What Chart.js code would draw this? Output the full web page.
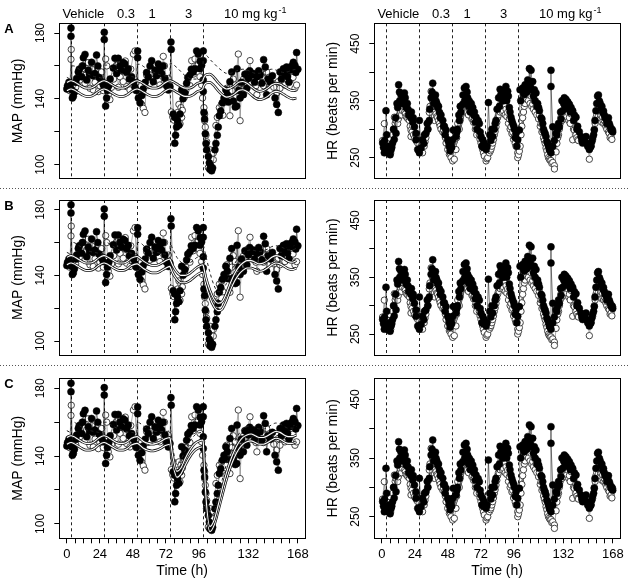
<!DOCTYPE html>
<html>
<head>
<meta charset="utf-8">
<script src="https://cdn.jsdelivr.net/npm/chart.js@4.4.0/dist/chart.umd.min.js"></script>
<style>
  body { margin: 0; background: #fff; }
  #fig { position: relative; width: 629px; height: 581px; overflow: hidden; }
  #fig canvas { position: absolute; }
  .sep {
    position: absolute; left: 0; width: 629px; height: 1px; z-index: 2;
    background-image: linear-gradient(to right, #555 50%, transparent 50%);
    background-size: 3px 1px;
  }
</style>
</head>
<body>
<div id="fig">
  <div class="sep" style="top:188px"></div>
  <div class="sep" style="top:365px"></div>
</div>
<script>
// dosing (h) and labels
const doseTimes = [3, 27, 51, 75, 99]
const doseLabels = ['Vehicle', '0.3', '1', '3', '10 mg kg']
const doseLabelHours = [12, 43, 62, 88.5, 137]

// axes
const timeTicks = [0, 6, 12, 18, 24, 30, 36, 42, 48, 54, 60, 66, 72, 78, 84, 90, 96, 102, 108, 114, 120, 126, 132, 138, 144, 150, 156, 162, 168]
const timeLabels = [0, 24, 48, 72, 96, 132, 168]
const mapTicks = [100, 120, 140, 160, 180]
const mapLabels = [100, 140, 180]
const hrTicks = [250, 300, 350, 400, 450]
const hrLabels = [250, 350, 450]

// observed MAP (mmHg), [h, value]
const mapFilled = [
  [0,146],[0.5,148],[1,147.4],[1.5,150],[2.3,148],[3,183],[3,178],[3.5,145.5],[4,140.5],[4.7,141.5],[5.5,144],[6.5,150],[7.1,152.4],[8.3,156.3],[9,158],[10.7,153.4],[11.5,160],[12,165],[13.2,167],[14.4,151.4],[15.6,157.3],[16.5,155],[18,162.2],[19,154],[20.4,155.4],[21.6,166.6],[22.5,160],[23.5,153],[25.3,150.4],[26.5,148.4],
  [27.2,180.4],[27.2,176],[28.2,135.6],[28.9,140.5],[29.5,145],[30.5,148],[31.5,152],[33.8,158.7],[35,164.6],[36.2,155.4],[37.4,164.6],[38.5,160],[39.8,157.3],[41,162],[42.3,161.2],[43.5,156],[44.7,158.3],[45.5,152],[47.1,153.4],[48.5,150],[49.5,147],[50.5,145],
  [51.5,169],[51.5,165],[52,140.5],[53.2,137.6],[54.5,142],[55.5,146],[57,150],[58,156],[59.2,153.4],[60.5,160],[61.7,163.2],[62.9,150.4],[64.1,157.3],[65.2,154],[66.5,161.2],[67.5,158],[68.9,155.4],[70,160],[71.4,152.4],[72.5,148],[73.8,145.4],[75,147.4],
  [75.7,174.5],[75.9,170],[77.4,130.7],[78.5,128.7],[78.5,113],[79.1,117.9],[79.8,122.8],[80.5,127],[81.5,124],[82.3,130.7],[83.5,145.5],[84.5,140],[85.9,143.5],[87.1,149.4],[88,153],[89.5,154.4],[90.5,158],[91.9,156.3],[93.2,158.3],[94.4,169.1],[95.6,167.2],[96.8,158.3],[97,163],[98,160.3],
  [99.2,169.1],[99.2,163.2],[99.2,151.4],[99.2,144.5],[99.7,131.7],[100.2,127.7],[100.7,118.8],[101.2,112.9],[101.7,109],[102.9,105],[103.6,101.1],[104,97.2],[104.6,99.2],[105.3,96.2],[106,98],[107.7,109],[108.4,112.9],[109.4,117.9],[110.1,122.8],[110.9,129.7],[111.9,132.6],[113.1,137.6],[114.3,140.5],[115.6,145.5],[116.7,142.5],[117.5,138],[118.6,150.4],[119.9,156.3],[121.1,138.6],[122.5,135],[123.5,135.6],[123.8,158.3],
  [125,145],[126,140.5],[127,150],[128.4,142.5],[129.5,155],[130.9,146.4],[132.1,152.4],[133,157],[134.5,154.4],[135.7,155.4],[136.5,150],[138.2,153.4],[139.5,157],[140.6,154.4],[141.8,149.4],[143.1,163.8],[144.3,159.3],[145.3,142.5],[146.5,152],[148,150],[149.5,154],[151.4,140.5],[152.6,136.6],[153.8,131.7],[155,156.3],[156,152],[157.5,158.3],[158.5,155],[159.8,159.3],[160.5,153.4],[161.5,150],[162.3,157.3],[163.5,160],[164.7,162.2],[165.9,160.3],[166.5,156],[167.1,168.1],[168,158]
]
const mapOpen = [
  [0.5,147],[2,145],[3,164],[3.2,170],[4.5,143],[6.4,147],[7.5,150],[9.5,151.4],[11,160],[13.2,149.4],[14.4,155.4],[15.5,162],[16.8,146.4],[18,158],[19.2,145.4],[20.5,150],[22.9,144.4],[22.9,157.3],[24,148],[25.3,156.3],[26.5,145],
  [28.2,164.2],[29,160],[30.1,142.5],[31.3,139.5],[32.5,147],[34,152],[36.2,160.3],[37.5,147],[38.7,153.4],[40,157],[41,150.4],[42.5,163],[43.5,147.4],[45.9,145.4],[46.5,158],[48.4,167.2],[49.6,169.1],[50.5,150],
  [53.2,142.5],[54.4,136.6],[55.6,134.2],[56.8,131.7],[58,154.4],[59,148],[60.5,149.4],[62,158],[63.5,152],[65.3,156.3],[66.5,151],[67.7,148.4],[69,155],[70.1,165.8],[71,160],[72.5,152],[73.8,152.4],[74.5,148],
  [76,132],[77,129],[78,127],[79.8,128.7],[80.6,131.7],[81.5,136.6],[82.3,124.8],[83,134.6],[83.5,128.7],[84,133],[85.5,141],[86.5,145],[88.3,152.4],[89.5,148],[90.8,163.2],[92,155],[93.2,164.2],[94.5,160],[95.6,156.3],[96.8,153.4],[98,148.4],[98.7,140.5],
  [99.7,134.6],[100.2,130.7],[100.2,126.7],[100.7,122.8],[101.2,117.9],[101.7,113.9],[102.9,98.2],[104,109],[106.5,103],[106.5,107],[108.4,123.8],[109.4,128.7],[110.9,134.6],[112.5,136.6],[113.5,130],[115,138],[116.2,146.4],[117.5,144],[118.6,129.7],[120,145],[121,152],[122.3,148.4],[124.7,167.2],
  [126,126.7],[127.1,149.4],[128.5,152],[130,151],[131.5,156],[133.2,163.2],[134.5,150],[136,153],[137.5,148],[138.2,142.5],[140,150],[141.8,153.4],[143,148],[145.3,156.3],[147,153],[149,150],[150.5,147],[152.6,143.5],[153.8,150.4],[155,146.4],[156.5,155],[158.6,148.4],[160,152],[161,157],[162.3,151.4],[163.5,156.3],[164.5,153],[165.9,146.4],[167.1,148.4]
]

// observed HR (beats per min), [h, value]
const hrFilled = [
  [0.6,275.6],[1.2,268],[1.8,258.5],[2,280],[2.5,262],[3,267],[3,332.4],[3.5,290],[4.2,258.5],[4.8,265],[5,270],[6,255],[6.7,264],[7.2,268],[7.8,275.6],[8.5,300],[9,282],[10,320],[10.3,292.6],[11,345],[11.5,338],[12.2,377.8],[12.8,365],[13,350],[13.9,360.8],[14.5,345],[15.1,355.1],[16,350],[16.4,363.6],[17,355],[17.6,338],[18.5,345],[19,335],[19.5,325],[20,329.5],[21,320],[21.5,330],[22.4,312.5],[22.8,320],[23.7,304],[24.8,292.6],[24.8,281.3],[26.1,264.2],
  [27.3,258.5],[27.3,315.3],[28.5,267],[29.6,281.3],[30.5,275],[31,290],[32.1,292.6],[33,310],[33.5,300],[34.5,315.3],[34.8,335],[35.8,355.1],[36.5,365],[37,380.7],[37.8,345],[38.2,355.1],[39,360],[39.4,349.4],[40,345],[40.6,338],[41.2,340],[41.9,329.5],[42.5,320],[43,325],[44.3,315.3],[44.8,305],[45.5,305],[46,290],[46.7,298.3],[47.9,281.3],[48.5,278],[49.1,269.9],[49.6,262],[50.3,275.6],[50.8,268],
  [51.5,281.3],[52,298.3],[53.9,287],[54.5,295],[55,300],[56,325],[56.4,315.3],[57,340],[57.5,330],[58.8,343.7],[59,360],[60,372.2],[60.5,350],[61.2,375],[62,365],[62.4,355.1],[63,340],[63.6,349.4],[64.3,330],[65,345],[66.1,338],[66.8,325],[67.3,330],[68,312],[68.5,321],[69.2,300],[70,315],[70.9,309.7],[71.5,295],[72.1,287],[72.8,270],[73.3,281.3],[73.8,268],[74.5,275.6],
  [75.8,264.2],[76.5,270],[77.5,346.6],[78.5,290],[79.2,280],[80,300],[80.6,287],[81.8,300],[82.4,310],[83,315.3],[83.8,335],[84.9,355.1],[85.5,340],[86,370],[86.6,360.8],[87.9,349.4],[88.5,355],[89,365],[90.2,375],[90.8,350],[91.5,366.5],[92,358],[92.7,338],[93.2,330],[93.9,321],[94.5,315],[95.2,309.7],[96,305],[96.4,300],[97,285],[97.6,292.6],[98.2,270],[98.8,281.3],
  [100,298.3],[100.5,369.3],[101,350],[102.4,372.2],[103,365],[103.6,360.8],[104.2,378],[104.8,369.3],[105.5,365],[106.1,386.4],[106.8,380],[107.3,406.3],[108,375],[108.5,403.4],[109.2,369.3],[109.7,383.5],[110.2,358],[110.9,369.3],[111.5,350],[112.1,363.6],[112.8,340],[113.3,345],[114,338],[114.6,332.4],[115.8,320],[116.4,318],[117,309.7],[117.6,300],[118.2,295],[118.8,292],[119.4,287],[120,278],[120.6,275.6],[121.2,270],[121.8,264.2],[122.4,262],[123,258.5],[123,403.4],[123,375],[124.3,304],[124.3,269.9],
  [125.5,280],[126.7,292.6],[127.3,290],[127.9,300],[128.5,310],[129.1,304],[130,330],[130.3,318],[131,350],[131.5,332.4],[132.2,345],[132.7,355.1],[133.3,340],[133.9,352.3],[134.5,338],[135.2,348],[136,335],[136.4,343.7],[137,330],[137.6,338],[138.8,332.4],[139.4,315],[140,325],[141.2,321],[141.8,300],[142.4,305],[143.6,295.5],[144.8,287],[145.4,280],[146,275.6],[147.3,280],[148.5,287],[149,275],[149.7,269.9],[150.9,264.2],[151.5,268],[152.1,270],[152.7,278],[153.3,285],[154,290],[154.5,298.3],
  [155,315],[155.7,332.4],[156.3,345],[156.9,358],[157.5,360],[158.2,349.4],[158.8,345],[159.4,338],[160,340],[160.6,329.5],[161.2,332],[161.8,325],[162.4,320],[163,318.2],[163.6,310],[164.2,315],[164.8,320],[165.4,309.7],[166,305],[166.7,298.3],[167.3,300],[167.9,295]
]
const hrOpen = [
  [0.5,280],[1.8,309.7],[2.5,270],[3.6,265],[4.2,275.6],[5.3,262],[5.9,284],[6.4,258],[7,270],[8,290],[8.6,300],[9.1,321],[9.7,310],[10.3,315],[11.5,309.7],[12,318],[12.6,323.9],[13.8,330],[14.4,325],[15.1,332.4],[15.6,340],[16,345],[16.6,330],[17.1,326.7],[17.7,322],[18.3,320],[19,318],[20,315.3],[20.6,305],[21.2,298.3],[21.2,287],[22,295],[22.5,305],[23,290],[23.7,284],[24.8,289.8],[25.4,278],[26.1,275.6],[26.8,262],
  [27.8,258.5],[28.7,265],[29,272],[29.6,258.5],[30.8,270],[31.4,278],[32,285],[33.3,300],[33.9,312],[34.5,329.5],[35,340],[35.8,366.5],[36.8,350],[37.5,343.7],[38.2,315.3],[38.8,330],[39.4,326.7],[40,322],[40.5,320],[41.2,315],[41.9,309.7],[42.4,305],[43,300],[44.3,295],[44.9,298],[45.5,292.6],[46.2,285],[46.7,275.6],[47.9,264.2],[48.5,270],[49.1,255.7],[49.7,258],[50.3,250],
  [51.5,244.3],[52.7,247.2],[53.9,264.2],[54.4,285],[55.2,309.7],[56.3,300],[56.9,315],[57.6,326.7],[58.2,330],[58.8,335],[59.4,340],[60,349.4],[60.6,335],[61.2,340],[61.8,330],[62.4,338],[63,325],[63.6,332],[64.9,329.5],[65.5,318],[66.1,320],[66.7,312],[67.3,315.3],[68,300],[68.5,305],[69,290],[69.7,298.3],[70.9,290],[71.4,282],[72.1,275.6],[72.7,270],[73.3,264.2],[73.9,258],[74.5,252.8],
  [75.8,244.3],[76.4,248],[77,250],[78.2,258.5],[79,262],[79.4,265],[80,270],[80.6,275.6],[81.2,282],[81.8,290],[82.4,296],[83,304],[83.6,312],[84.2,320],[84.8,325],[85.4,332.4],[86,330],[86.6,335],[87.9,329.5],[88.5,332],[89.1,340.9],[89.7,325],[90.3,335],[90.9,322],[91.5,329.5],[92.1,310],[92.7,318],[93.3,300],[93.9,304],[94.6,292],[95.2,295],[95.8,282],[96.4,287],[97,275],[97.6,269.9],[98.8,258.5],[98.8,250],
  [99.4,255],[100,261.4],[100.6,270],[101.2,290],[101.8,305],[102.4,320],[103,330],[103.6,340],[104.2,345],[104.8,355.1],[105.4,352],[106,360],[106.6,350],[107.3,366.5],[107.8,345],[108.5,358],[109,340],[109.7,343.7],[110.3,335],[110.9,349.4],[111.5,330],[112.1,340],[112.7,325],[113.3,338],[114,318],[114.5,325],[115.2,305],[115.8,310],[116.4,295],[117,298.3],[117.6,285],[118.2,280],[118.8,275],[119.4,267],[120,262],[120.6,255],[121.2,250],[121.8,247.2],[122.4,245],[123,245],[123.6,240],[124.3,241.5],[125.5,235.8],[125.5,230.1],
  [126.7,260],[127.3,275],[127.9,285],[128.5,290],[129.1,300],[129.7,310],[130.3,321],[130.9,315],[131.5,325],[132.1,318],[132.7,332.4],[133.9,330],[134.5,322],[135.2,329.5],[136,315],[136.4,320],[137,310],[137.6,326.7],[138.8,281.3],[139.4,300],[140,298.3],[141.2,290],[141.8,285],[142.4,281.3],[143,280],[146,282],[147.5,278],[149.7,275],[150.9,247.2],[152.1,270],[153.3,281.3],[154.5,300],
  [155.1,310],[155.7,320],[156.3,325],[156.9,332.4],[157.6,335],[158.2,330],[158.8,320],[159.4,323.9],[160,312],[160.6,321],[161.2,310],[161.8,315],[162.4,308],[163,304],[163.6,300],[164.2,306.8],[164.8,295],[165.4,292.6],[166,285],[166.7,287],[167.3,282],[167.9,298.3]
]

// model fits, sampled at fitHours
const fitHours = [
  0, 2.9, 3.2, 5, 8, 11, 14, 17, 20, 23,
  26.9, 27.2, 29, 32, 35, 38, 41, 44, 47,
  50.9, 51.2, 53, 56, 59, 62, 65, 68, 71,
  74.9, 75.2, 77, 80, 83, 86, 89, 92, 95,
  98.9, 99.2, 101, 104, 107, 110, 113, 116, 119, 122,
  125, 128, 131, 134, 137, 140, 143, 146, 149, 152, 155, 158, 161, 164, 167
]
const mapFitA1 = [
  150, 151, 151, 150.5, 149, 147.5, 146.5, 146.5, 147.5, 149.5,
  151, 151, 150.5, 149, 147.5, 146.5, 146.5, 147.5, 149.5,
  151, 151, 150.5, 149, 147.5, 146.5, 146.5, 147.5, 149.5,
  151, 151, 150.5, 149, 147.5, 146.5, 146.5, 147.5, 149.5,
  151, 152, 154.5, 155, 153, 150, 147.5, 146, 146.5, 148,
  150, 150.5, 149.5, 147.5, 145.5, 144.5, 145, 146.5, 148.5, 149.5, 149, 147.5, 146, 145, 145.5
]
const mapFitA2 = [
  145, 146, 146, 145.5, 144, 142.5, 141.5, 141.5, 142.5, 144.5,
  146, 146, 145.5, 144, 142.5, 141.5, 141.5, 142.5, 144.5,
  146, 146, 145.5, 144, 142.5, 141.5, 141.5, 142.5, 144.5,
  146, 146, 145.5, 144, 142.5, 141.5, 141.5, 142.5, 144.5,
  146, 147, 149.5, 150, 148, 145, 142.5, 141, 141.5, 143,
  145, 145.5, 144.5, 142.5, 140.5, 139.5, 140, 141.5, 143.5, 144.5, 144, 142.5, 141, 140, 140.5
]
const mapTypA = [
  153, 152, 160, 160, 158.5, 157, 155.5, 154.5, 153.5, 153,
  152.5, 160.5, 160.5, 159, 157.5, 156, 155, 154, 153.5,
  153, 161, 161, 159.5, 158, 156.5, 155.5, 154.5, 154,
  153.5, 161.5, 161, 159, 156.5, 154, 152.5, 152, 152,
  152, 166, 166.5, 164, 161.5, 159, 157, 155.5, 155.5, 156.5,
  157.5, 158, 157.5, 156.5, 155.5, 155.5, 156.5, 157.5, 158, 157.5, 156.5, 156, 156.5, 157.5, 158
]
const mapFitB1 = [
  151, 152, 152, 151.5, 150, 148.5, 147.5, 147.5, 148.5, 150.5,
  152, 152, 151.5, 150, 148.5, 147.5, 147.5, 148.5, 150.5,
  151.5, 151.5, 150.5, 148.5, 147, 146, 146, 147, 148.5,
  150, 149.5, 146, 142, 140, 140, 141, 143, 145,
  146.5, 146, 139, 131, 125.5, 123, 124, 129, 135.5, 141,
  145, 147.5, 149, 149, 148, 147, 147.5, 149, 151, 152, 151.5, 150, 148.5, 148, 149
]
const mapFitB2 = [
  146.5, 147.5, 147.5, 147, 145.5, 144, 143, 143, 144, 146,
  147.5, 147.5, 147, 145.5, 144, 143, 143, 144, 146,
  147, 147, 146, 144, 142.5, 141.5, 141.5, 142.5, 144,
  145.5, 145, 141.5, 137.5, 135.5, 135.5, 136.5, 138.5, 140.5,
  142, 141.5, 134.5, 126.5, 121, 118.5, 119.5, 124.5, 131, 136.5,
  140.5, 143, 144.5, 144.5, 143.5, 142.5, 143, 144.5, 146.5, 147.5, 147, 145.5, 144, 143.5, 144.5
]
const mapTypB = [
  154, 153, 160, 160, 158.5, 157, 155.5, 154.5, 154, 153.5,
  153, 160, 160, 158.5, 157, 155.5, 154.5, 154, 153.5,
  153, 160, 160, 158, 156.5, 155, 154, 153.5, 153,
  153, 159, 156, 151, 148, 147, 147.5, 149, 151,
  152, 158, 152, 142, 134, 130, 130.5, 135, 141.5, 147,
  151, 153.5, 155, 155.5, 155, 154.5, 155, 156, 157.5, 158, 157.5, 156.5, 155.5, 155.5, 156.5
]
const mapFitC1 = [
  151, 152, 152, 151.5, 150, 148.5, 147.5, 147.5, 148.5, 150.5,
  152, 152, 151.5, 150, 148.5, 147.5, 147.5, 148.5, 150.5,
  151.5, 151.5, 150.5, 148.5, 147.5, 147, 147.5, 148.5, 150,
  151, 150, 140, 131, 133, 138.5, 143, 146.5, 148.5,
  149.5, 148, 118, 98.5, 102, 111, 121, 130, 137.5, 143.5,
  148, 151, 152.5, 153, 152, 151, 151, 152, 153.5, 154.5, 154, 152.5, 151.5, 151.5, 152.5
]
const mapFitC2 = [
  147, 148, 148, 147.5, 146, 144.5, 143.5, 143.5, 144.5, 146.5,
  148, 148, 147.5, 146, 144.5, 143.5, 143.5, 144.5, 146.5,
  147.5, 147.5, 146.5, 144.5, 143.5, 143, 143.5, 144.5, 146,
  147, 146, 136, 127.5, 129.5, 134.5, 139, 142.5, 144.5,
  145.5, 144, 114, 95.5, 99, 107.5, 117, 126, 133.5, 139.5,
  144, 147, 148.5, 149, 148, 147, 147, 148, 149.5, 150.5, 150, 148.5, 147.5, 147.5, 148.5
]
const mapTypC = [
  155, 154, 160, 160, 158.5, 157, 155.5, 155, 154.5, 154,
  153.5, 160, 160, 158.5, 157, 156, 155, 154.5, 154,
  153.5, 160, 159.5, 157.5, 156, 155, 154.5, 154.5, 154.5,
  155, 156, 145, 136, 138, 143, 148, 151.5, 153.5,
  154.5, 155, 124, 104, 107, 116, 126, 135, 142.5, 148.5,
  153, 156, 157.5, 158, 157, 156, 156, 157, 158.5, 159.5, 159, 157.5, 156.5, 156.5, 157.5
]
const hrFit = [
  275, 270, 278, 272, 285, 310, 332, 338, 328, 305,
  282, 285, 276, 290, 318, 340, 335, 318, 295,
  274, 278, 270, 292, 322, 342, 338, 322, 300,
  274, 278, 268, 285, 315, 338, 345, 332, 305,
  276, 280, 290, 335, 362, 358, 335, 305, 280, 265,
  268, 295, 325, 338, 335, 315, 295, 282, 275, 278, 300, 330, 335, 320, 302
]

const FONT = "'Liberation Sans', Arial, Helvetica, sans-serif"
const BOX_LEFT = 59.3, BOX_RIGHT = 305

const rows = [
  { letter: 'A', top: 0, height: 188, boxTop: 23.3, boxBottom: 183.3, fits: [mapFitA1, mapFitA2], typ: mapTypA, doses: true },
  { letter: 'B', top: 188, height: 177, boxTop: 12, boxBottom: 172, fits: [mapFitB1, mapFitB2], typ: mapTypB },
  { letter: 'C', top: 365, height: 216, boxTop: 13.3, boxBottom: 173.3, fits: [mapFitC1, mapFitC2], typ: mapTypC, xAxis: true }
]

const pts = arr => arr.map(([t, v]) => ({ x: t, y: v })).sort((p, q) => p.x - q.x)
const fit = vals => fitHours.map((t, i) => ({ x: t, y: vals[i] }))

const tube = (vals, outer, inner) => [
  { data: fit(vals), showLine: true, pointRadius: 0, borderColor: '#fff', borderWidth: inner, cubicInterpolationMode: 'monotone' },
  { data: fit(vals), showLine: true, pointRadius: 0, borderColor: '#111', borderWidth: outer, cubicInterpolationMode: 'monotone' }
]
const dashed = vals => ({
  data: fit(vals), showLine: true, pointRadius: 0, borderColor: '#222', borderWidth: 1,
  borderDash: [3, 3], cubicInterpolationMode: 'monotone'
})
const openSet = arr => ({
  data: pts(arr), showLine: true, borderColor: '#555', borderWidth: 0.5,
  pointRadius: 3.2, pointBackgroundColor: '#fff', pointBorderColor: '#444', pointBorderWidth: 1
})
const filledSet = arr => ({
  data: pts(arr), showLine: true, borderColor: '#000', borderWidth: 0.5,
  pointRadius: 3.5, pointBackgroundColor: '#000', pointBorderColor: '#000', pointBorderWidth: 0.5
})

// dashed dose lines, box and all text
const panelPlugin = {
  id: 'panel',
  beforeDatasetsDraw(chart, args, o) {
    const { ctx, chartArea: a } = chart
    const x = chart.scales.x
    ctx.save()
    ctx.strokeStyle = '#222'
    ctx.lineWidth = 1
    ctx.setLineDash([3, 3])
    doseTimes.forEach(t => {
      const px = Math.round(x.getPixelForValue(t)) + 0.5
      ctx.beginPath()
      ctx.moveTo(px, a.top)
      ctx.lineTo(px, a.bottom)
      ctx.stroke()
    })
    ctx.restore()
  },
  afterDraw(chart, args, o) {
    const { ctx, chartArea: a } = chart
    const x = chart.scales.x, y = chart.scales.y
    ctx.save()
    ctx.strokeStyle = '#000'
    ctx.lineWidth = 1
    ctx.strokeRect(Math.round(a.left) + 0.5, Math.round(a.top) + 0.5, Math.round(a.right - a.left), Math.round(a.bottom - a.top))
    ctx.fillStyle = '#000'
    ctx.textAlign = 'center'
    ctx.textBaseline = 'middle'

    // y tick labels, rotated
    ctx.font = '12px ' + FONT
    o.yLabels.forEach(v => {
      ctx.save()
      ctx.translate(a.left - 18.5, y.getPixelForValue(v))
      ctx.rotate(-Math.PI / 2)
      ctx.fillText(String(v), 0, 0)
      ctx.restore()
    })
    // y title
    ctx.font = '14px ' + FONT
    ctx.save()
    ctx.translate(a.left - 41, (a.top + a.bottom) / 2)
    ctx.rotate(-Math.PI / 2)
    ctx.fillText(o.yTitle, 0, 0)
    ctx.restore()

    if (o.letter) {
      ctx.font = 'bold 13px ' + FONT
      ctx.fillText(o.letter, 9, a.top + 6)
    }
    if (o.doses) {
      ctx.font = '13px ' + FONT
      doseLabels.forEach((lab, i) => {
        const cx = x.getPixelForValue(doseLabelHours[i])
        const cy = a.top - 9
        if (i === doseLabels.length - 1) {
          const w = ctx.measureText(lab).width
          ctx.font = '9px ' + FONT
          const ws = ctx.measureText('-1').width
          ctx.font = '13px ' + FONT
          ctx.textAlign = 'left'
          ctx.fillText(lab, cx - (w + ws + 1) / 2, cy)
          ctx.font = '9px ' + FONT
          ctx.fillText('-1', cx - (w + ws + 1) / 2 + w + 1, cy - 4)
          ctx.font = '13px ' + FONT
          ctx.textAlign = 'center'
        } else {
          ctx.fillText(lab, cx, cy)
        }
      })
    }
    if (o.xAxis) {
      ctx.font = '13px ' + FONT
      timeLabels.forEach(v => ctx.fillText(String(v), x.getPixelForValue(v), a.bottom + 16.5))
      ctx.font = '14px ' + FONT
      ctx.fillText('Time (h)', (a.left + a.right) / 2, a.bottom + 32.5)
    }
    ctx.restore()
  }
}

const tickGrid = { drawOnChartArea: false, drawTicks: true, tickLength: 5, color: '#000', lineWidth: 1 }

function makePanel(row, col) {
  const isMap = col === 0
  const left = isMap ? 0 : 315
  const width = isMap ? 315 : 314
  const canvas = document.createElement('canvas')
  canvas.width = width
  canvas.height = row.height
  canvas.style.left = left + 'px'
  canvas.style.top = row.top + 'px'
  canvas.style.width = width + 'px'
  canvas.style.height = row.height + 'px'
  document.getElementById('fig').appendChild(canvas)

  // first dataset is drawn on top
  let datasets
  if (isMap) {
    datasets = [
      ...tube(row.fits[0], 2.7, 1.1),
      ...tube(row.fits[1], 2.7, 1.1),
      dashed(row.typ),
      filledSet(mapFilled),
      openSet(mapOpen)
    ]
  } else {
    datasets = [
      filledSet(hrFilled),
      openSet(hrOpen),
      ...tube(hrFit, 2.2, 0.9)
    ]
  }

  new Chart(canvas, {
    type: 'scatter',
    data: { datasets },
    plugins: [panelPlugin],
    options: {
      responsive: false,
      animation: false,
      devicePixelRatio: 1,
      events: [],
      layout: {
        padding: {
          top: row.boxTop,
          right: width - BOX_RIGHT,
          bottom: row.xAxis ? 0 : row.height - row.boxBottom,
          left: 0
        }
      },
      plugins: {
        legend: { display: false },
        tooltip: { enabled: false },
        panel: {
          yLabels: isMap ? mapLabels : hrLabels,
          yTitle: isMap ? 'MAP (mmHg)' : 'HR (beats per min)',
          letter: isMap ? row.letter : '',
          doses: !!row.doses,
          xAxis: !!row.xAxis
        }
      },
      scales: {
        x: {
          type: 'linear', min: -5.5, max: 173.2, bounds: 'data',
          display: !!row.xAxis,
          grid: tickGrid,
          border: { display: false },
          ticks: { display: false },
          afterBuildTicks: s => { s.ticks = timeTicks.map(v => ({ value: v })) },
          afterFit: s => { s.height = row.height - row.boxBottom }
        },
        y: {
          type: 'linear', bounds: 'data',
          min: isMap ? 91.5 : 213.2,
          max: isMap ? 185.9 : 485.8,
          grid: tickGrid,
          border: { display: false },
          ticks: { display: false },
          afterBuildTicks: s => { s.ticks = (isMap ? mapTicks : hrTicks).map(v => ({ value: v })) },
          afterFit: s => { s.width = BOX_LEFT }
        }
      }
    }
  })
}

rows.forEach(row => {
  makePanel(row, 0)
  makePanel(row, 1)
})
</script>
</body>
</html>
